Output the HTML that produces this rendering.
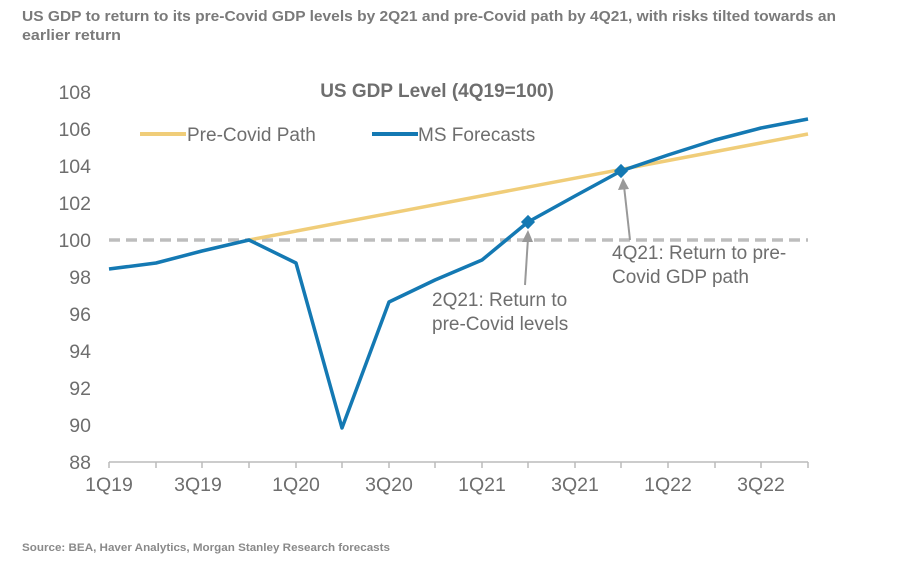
<!DOCTYPE html>
<html><head><meta charset="utf-8"><style>
body{margin:0;background:#fff;}
svg{display:block;font-family:"Liberation Sans",Arial,sans-serif;}
</style></head><body>
<svg width="900" height="564" viewBox="0 0 900 564">
<text x="22" y="21" font-size="14.5" font-weight="bold" fill="#7a7a7a" textLength="814" lengthAdjust="spacingAndGlyphs">US GDP to return to its pre-Covid GDP levels by 2Q21 and pre-Covid path by 4Q21, with risks tilted towards an</text>
<text x="22" y="40" font-size="14.5" font-weight="bold" fill="#7a7a7a" textLength="99" lengthAdjust="spacingAndGlyphs">earlier return</text>
<text x="437" y="97" font-size="19" font-weight="bold" fill="#6e6e6e" text-anchor="middle">US GDP Level (4Q19=100)</text>
<g font-size="19.5" fill="#6e6e6e" text-anchor="end">
<text x="91" y="99">108</text><text x="91" y="136">106</text><text x="91" y="173">104</text>
<text x="91" y="210">102</text><text x="91" y="247">100</text><text x="91" y="284">98</text>
<text x="91" y="321">96</text><text x="91" y="358">94</text><text x="91" y="395">92</text>
<text x="91" y="432">90</text><text x="91" y="469">88</text>
</g>
<line x1="140" y1="134" x2="186" y2="134" stroke="#f0cd79" stroke-width="4"/>
<text x="187" y="141" font-size="19" fill="#6e6e6e">Pre-Covid Path</text>
<line x1="372" y1="134" x2="418" y2="134" stroke="#1479b3" stroke-width="4"/>
<text x="418" y="141" font-size="19" fill="#6e6e6e">MS Forecasts</text>
<line x1="109" y1="240" x2="808" y2="240" stroke="#bdbdbd" stroke-width="3.5" stroke-dasharray="11,6"/>
<line x1="109" y1="462" x2="808" y2="462" stroke="#bbb" stroke-width="1.5"/>
<g stroke="#bbb" stroke-width="1.5">
<line x1="109" y1="462" x2="109" y2="468"/><line x1="156" y1="462" x2="156" y2="468"/><line x1="202" y1="462" x2="202" y2="468"/><line x1="249" y1="462" x2="249" y2="468"/><line x1="296" y1="462" x2="296" y2="468"/><line x1="342" y1="462" x2="342" y2="468"/><line x1="389" y1="462" x2="389" y2="468"/><line x1="435" y1="462" x2="435" y2="468"/><line x1="482" y1="462" x2="482" y2="468"/><line x1="528" y1="462" x2="528" y2="468"/><line x1="575" y1="462" x2="575" y2="468"/><line x1="621" y1="462" x2="621" y2="468"/><line x1="668" y1="462" x2="668" y2="468"/><line x1="715" y1="462" x2="715" y2="468"/><line x1="761" y1="462" x2="761" y2="468"/><line x1="808" y1="462" x2="808" y2="468"/>
</g>
<g font-size="19.5" fill="#6e6e6e" text-anchor="middle">
<text x="109" y="491">1Q19</text><text x="198" y="491">3Q19</text><text x="296" y="491">1Q20</text><text x="389" y="491">3Q20</text><text x="482" y="491">1Q21</text><text x="575" y="491">3Q21</text><text x="668" y="491">1Q22</text><text x="761" y="491">3Q22</text>
</g>
<polyline points="249,240 808,134" fill="none" stroke="#f0cd79" stroke-width="3.5"/>
<polyline points="109,269 156,263 202,251 249,240 296,263 342,428 389,302 435,280 482,260 528,222 575,196 621,171 668,155 715,140 761,128 808,119" fill="none" stroke="#1479b3" stroke-width="3.5" stroke-linejoin="round"/>
<rect x="523" y="217" width="10" height="10" fill="#1479b3" transform="rotate(45 528 222)"/>
<rect x="616" y="166" width="10" height="10" fill="#1479b3" transform="rotate(45 621 171)"/>
<line x1="525" y1="285" x2="528" y2="238" stroke="#999" stroke-width="2"/>
<polygon points="528,230 522,242 533,242" fill="#999"/>
<line x1="630" y1="240" x2="624" y2="186" stroke="#999" stroke-width="2"/>
<polygon points="623,178 618,190 629,189" fill="#999"/>
<g font-size="19" fill="#6e6e6e">
<text x="432" y="306">2Q21: Return to</text><text x="432" y="330">pre-Covid levels</text>
<text x="612" y="259">4Q21: Return to pre-</text><text x="612" y="283">Covid GDP path</text>
</g>
<text x="22" y="551" font-size="11" font-weight="bold" fill="#8a8a8a" textLength="368" lengthAdjust="spacingAndGlyphs">Source: BEA, Haver Analytics, Morgan Stanley Research forecasts</text>
</svg>
</body></html>
